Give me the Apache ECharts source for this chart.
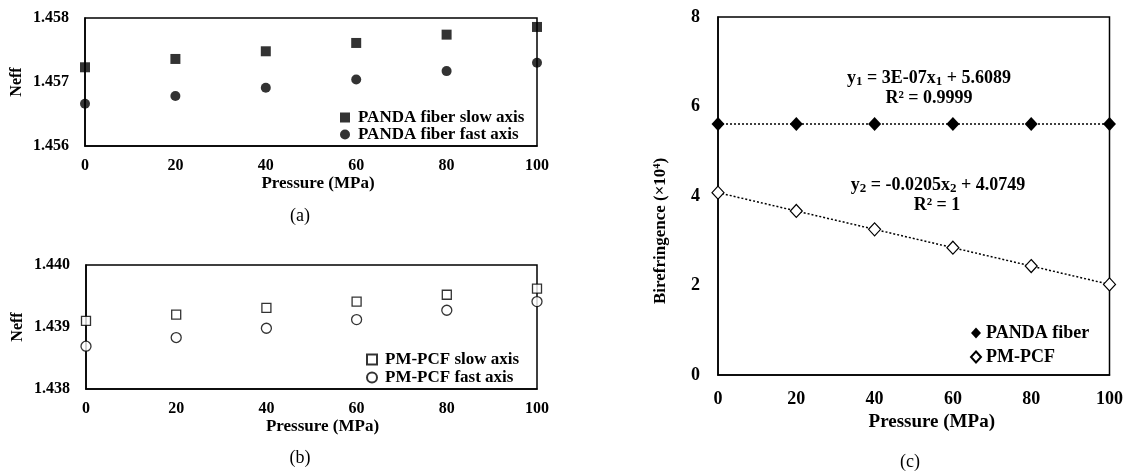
<!DOCTYPE html>
<html><head><meta charset="utf-8">
<script src="https://cdn.jsdelivr.net/npm/echarts@6/dist/echarts.min.js"></script>
<style>html,body{margin:0;padding:0;background:#fff}#c{width:1126px;height:474px}</style>
</head><body><div id="c"></div>
<script>
const pressure = [0, 20, 40, 60, 80, 100];
const pandaSlow = [1.45723, 1.45736, 1.45748, 1.45761, 1.45774, 1.45786];
const pandaFast = [1.45666, 1.45678, 1.45691, 1.45704, 1.45717, 1.45730];
const pcfSlow = [1.43910, 1.43920, 1.43931, 1.43941, 1.43952, 1.43962];
const pcfFast = [1.43869, 1.43883, 1.43898, 1.43912, 1.43927, 1.43941];
const biPanda = [5.609, 5.609, 5.609, 5.609, 5.609, 5.609];
const biPcf = [4.075, 3.665, 3.255, 2.845, 2.435, 2.025];
const eq1 = '{t|y}{s|1}{t| = 3E-07x}{s|1}{t| + 5.6089}';
const eq1r = 'R\u00b2 = 0.9999';
const eq2 = '{t|y}{s|2}{t| = -0.0205x}{s|2}{t| + 4.0749}';
const eq2r = 'R\u00b2 = 1';

const FONT = '"Liberation Serif", "Times New Roman", serif';
const pairs = a => pressure.map((x, i) => [x, a[i]]);
const lab = (s) => ({fontFamily: FONT, fontWeight: 'bold', fontSize: s, color: '#000'});

function xAx(gi, fs, margin, gap, shift) {
  return {gridIndex: gi, type: 'value', min: 0, max: 100, interval: 20,
    axisLine: {show: true, onZero: false, lineStyle: {color: '#000', width: 1.5}},
    axisTick: {show: false}, splitLine: {show: false},
    axisLabel: Object.assign({margin: margin}, lab(fs)),
    name: 'Pressure (MPa)', nameLocation: 'middle', nameGap: gap,
    nameTextStyle: Object.assign({padding: [0, 0, 0, shift]}, lab(fs + 1))};
}
function yAx(gi, fs, min, max, interval, dec, name, gap, margin) {
  return {gridIndex: gi, type: 'value', min: min, max: max, interval: interval,
    axisLine: {show: true, lineStyle: {color: '#000', width: 1.5}},
    axisTick: {show: false}, splitLine: {show: false},
    axisLabel: Object.assign({margin: margin, formatter: v => v.toFixed(dec)}, lab(fs)),
    name: name, nameLocation: 'middle', nameGap: gap, nameTextStyle: lab(fs)};
}
const gridBase = {show: true, borderColor: '#000', borderWidth: 1.5, backgroundColor: 'transparent'};

const option = {
  animation: false,
  backgroundColor: '#fff',
  grid: [
    Object.assign({left: 85, top: 18, width: 452, height: 128}, gridBase),
    Object.assign({left: 86, top: 265, width: 451, height: 124}, gridBase),
    Object.assign({left: 718, top: 17, width: 392, height: 358}, gridBase)
  ],
  xAxis: [xAx(0, 16, 12, 29, 14), xAx(1, 16, 12, 27, 22), xAx(2, 18, 15, 36, 36)],
  yAxis: [
    yAx(0, 16, 1.456, 1.458, 0.001, 3, 'Neff', 60, 16),
    yAx(1, 16, 1.438, 1.440, 0.001, 3, 'Neff', 60, 16),
    yAx(2, 18, 0, 8, 2, 0, '', 40, 18)
  ],
  legend: [
    {orient: 'vertical', left: 335, top: 104, itemWidth: 10, itemHeight: 10, itemGap: 0,
      textStyle: Object.assign({padding: [0, 0, 0, 3]}, lab(17)),
      data: [{name: 'PANDA fiber slow axis', icon: 'rect'}, {name: 'PANDA fiber fast axis', icon: 'circle'}]},
    {orient: 'vertical', left: 361, top: 346, itemWidth: 10, itemHeight: 10, itemGap: 1,
      textStyle: Object.assign({padding: [0, 0, 0, 3]}, lab(17)),
      data: [{name: 'PM-PCF slow axis', icon: 'rect'}, {name: 'PM-PCF fast axis', icon: 'circle'}]},
    {orient: 'vertical', left: 965, top: 319, itemWidth: 10, itemHeight: 11, itemGap: 6,
      textStyle: lab(18),
      data: [{name: 'PANDA fiber', icon: 'diamond'}, {name: 'PM-PCF', icon: 'diamond'}]}
  ],
  series: [
    {name: 'PANDA fiber slow axis', type: 'scatter', xAxisIndex: 0, yAxisIndex: 0, clip: false,
      symbol: 'rect', symbolSize: 10, itemStyle: {color: '#000'}, data: pairs(pandaSlow)},
    {name: 'PANDA fiber fast axis', type: 'scatter', xAxisIndex: 0, yAxisIndex: 0, clip: false,
      symbol: 'circle', symbolSize: 10, itemStyle: {color: '#000'}, data: pairs(pandaFast)},
    {name: 'PM-PCF slow axis', type: 'scatter', xAxisIndex: 1, yAxisIndex: 1, clip: false,
      symbol: 'rect', symbolSize: 9, itemStyle: {color: '#fff', borderColor: '#000', borderWidth: 1.3}, data: pairs(pcfSlow)},
    {name: 'PM-PCF fast axis', type: 'scatter', xAxisIndex: 1, yAxisIndex: 1, clip: false,
      symbol: 'circle', symbolSize: 10, itemStyle: {color: '#fff', borderColor: '#000', borderWidth: 1.3}, data: pairs(pcfFast)},
    {name: 'PANDA fiber', type: 'line', xAxisIndex: 2, yAxisIndex: 2, clip: false,
      symbol: 'diamond', symbolSize: [13, 14], showAllSymbol: true,
      lineStyle: {color: '#000', width: 1.5, type: [2, 2]}, itemStyle: {color: '#000'}, data: pairs(biPanda)},
    {name: 'PM-PCF', type: 'line', xAxisIndex: 2, yAxisIndex: 2, clip: false,
      symbol: 'diamond', symbolSize: [12, 13], showAllSymbol: true,
      lineStyle: {color: '#000', width: 1.5, type: [2, 2]}, itemStyle: {color: '#fff', borderColor: '#000', borderWidth: 1.2}, data: pairs(biPcf)}
  ],
  graphic: [
    {type: 'text', x: 300, y: 216, style: {text: '(a)', font: '18px ' + FONT, fill: '#000', align: 'center', verticalAlign: 'middle'}},
    {type: 'text', x: 300, y: 458, style: {text: '(b)', font: '18px ' + FONT, fill: '#000', align: 'center', verticalAlign: 'middle'}},
    {type: 'text', x: 910, y: 462, style: {text: '(c)', font: '18px ' + FONT, fill: '#000', align: 'center', verticalAlign: 'middle'}},
    {type: 'text', x: 929, y: 78, style: {text: eq1, align: 'center', verticalAlign: 'middle',
      rich: {t: {fontFamily: FONT, fontWeight: 'bold', fontSize: 18, lineHeight: 20, fill: '#000', color: '#000'},
             s: {fontFamily: FONT, fontWeight: 'bold', fontSize: 13, lineHeight: 13, verticalAlign: 'bottom', color: '#000'}}}},
    {type: 'text', x: 929, y: 98, style: {text: eq1r, font: 'bold 18px ' + FONT, fill: '#000', align: 'center', verticalAlign: 'middle'}},
    {type: 'text', x: 938, y: 185, style: {text: eq2, align: 'center', verticalAlign: 'middle',
      rich: {t: {fontFamily: FONT, fontWeight: 'bold', fontSize: 18, lineHeight: 20, color: '#000'},
             s: {fontFamily: FONT, fontWeight: 'bold', fontSize: 13, lineHeight: 13, verticalAlign: 'bottom', color: '#000'}}}},
    {type: 'text', x: 937, y: 205, style: {text: eq2r, font: 'bold 18px ' + FONT, fill: '#000', align: 'center', verticalAlign: 'middle'}},
    {type: 'text', x: 661, y: 231, rotation: Math.PI / 2,
      style: {text: 'Birefringence (\u00d710\u2074)', font: 'bold 17px ' + FONT, fill: '#000', align: 'center', verticalAlign: 'middle'}}
  ]
};
const chart = echarts.init(document.getElementById('c'), null, {renderer: 'canvas'});
chart.setOption(option);
</script>
</body></html>
